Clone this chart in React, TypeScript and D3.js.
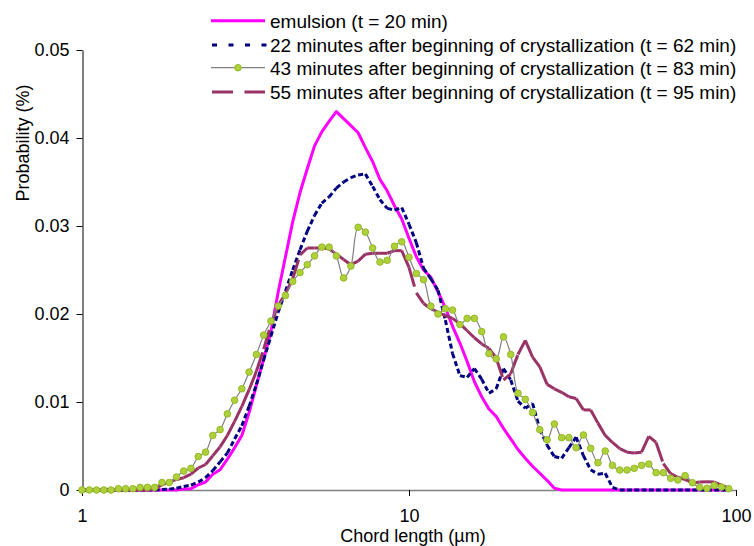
import React, { useEffect, useRef } from 'react';
import * as d3 from 'd3';

// chord length bins (µm), log spaced
const chordLength = [
  1.000, 1.053, 1.108, 1.166, 1.227, 1.292, 1.359, 1.431, 1.506, 1.585,
  1.668, 1.756, 1.848, 1.945, 2.047, 2.154, 2.268, 2.387, 2.512, 2.644,
  2.783, 2.929, 3.082, 3.244, 3.415, 3.594, 3.783, 3.981, 4.190, 4.410,
  4.642, 4.885, 5.142, 5.412, 5.696, 5.995, 6.310, 6.641, 6.989, 7.356,
  7.743, 8.149, 8.577, 9.027, 9.501, 10.00, 10.53, 11.08, 11.66, 12.27,
  12.92, 13.59, 14.31, 15.06, 15.85, 16.68, 17.56, 18.48, 19.45, 20.47,
  21.54, 22.68, 23.87, 25.12, 26.44, 27.83, 29.29, 30.82, 32.44, 34.15,
  35.94, 37.83, 39.81, 41.90, 44.10, 46.42, 48.85, 51.42, 54.12, 56.96,
  59.95, 63.10, 66.41, 69.89, 73.56, 77.43, 81.49, 85.77, 90.27, 95.01,
];

// probabilities, in units of 0.001 %
const emulsion = [
  0, 0, 0, 0, 0, 0, 0, 0, 0, 0,
  0, 0, 0, 0, 0.1, 0.15, 0.6, 0.9, 1.8, 2.3,
  3.5, 4.8, 6.2, 8.8, 11.9, 14.9, 18.0, 22.5, 26.5, 30.5,
  33.8, 36.5, 39.1, 40.7, 41.9, 43.0, 42.2, 41.4, 40.6, 38.9,
  37.3, 35.3, 34.0, 32.3, 30.8, 28.6, 26.5, 25.0, 24.2, 22.5,
  20.7, 18.6, 16.7, 14.6, 12.3, 10.6, 9.2, 8.35, 7.0, 5.8,
  4.6, 3.6, 2.7, 1.9, 1.1, 0.2, 0, 0, 0, 0,
  0, 0, 0, 0, 0, 0, 0, 0, 0, 0,
  0, 0, 0, 0, 0, 0, 0, 0, 0, 0,
];

const t62 = [
  0, 0, 0, 0, 0, 0, 0, 0, 0, 0,
  0, 0.05, 0.1, 0.2, 0.4, 0.55, 0.9, 1.4, 2.2, 3.2,
  4.2, 5.8, 7.3, 9.5, 12.0, 14.8, 17.5, 20.2, 22.6, 25.0,
  27.3, 29.4, 31.2, 32.6, 33.3, 34.3, 35.0, 35.5, 35.8, 35.9,
  34.5, 33.0, 32.0, 31.8, 32.1, 30.2, 28.1, 25.2, 24.0, 22.7,
  19.3, 15.5, 13.0, 12.8, 13.8, 12.6, 11.0, 11.5, 13.8, 12.5,
  10.1, 9.3, 9.85, 6.9, 5.1, 3.8, 3.6, 4.8, 6.0, 3.9,
  2.3, 1.8, 1.9, 0.3, 0, 0, 0, 0, 0, 0,
  0, 0, 0, 0, 0, 0, 0, 0, 0, 0,
];

const t83 = [
  0, 0, 0, 0, 0, 0.15, 0.15, 0.15, 0.3, 0.3,
  0.3, 0.85, 0.85, 1.48, 2.15, 2.46, 3.8, 4.3, 6.2, 6.86,
  8.65, 10.2, 11.5, 13.4, 15.4, 17.6, 19.2, 20.9, 22.1, 23.7,
  24.7, 25.6, 26.6, 27.6, 27.6, 26.6, 24.1, 25.45, 29.85, 29.3,
  27.5, 25.9, 26.1, 27.7, 28.2, 26.45, 24.6, 23.9, 20.9, 20.0,
  20.6, 20.45, 18.8, 19.5, 19.5, 18.0, 15.5, 14.9, 17.4, 15.4,
  11.0, 10.3, 8.8, 6.85, 5.7, 7.5, 5.95, 5.95, 4.8, 6.25,
  4.73, 3.1, 4.43, 2.8, 2.27, 2.27, 2.46, 2.8, 2.95, 1.97,
  1.97, 1.33, 1.14, 1.63, 0.83, 0.3, 0.19, 0.53, 0.34, 0.15,
];

const t95 = [
  0, 0, 0, 0, 0, 0, 0, 0, 0, 0,
  0.1, 0.6, 0.9, 1.2, 1.4, 1.8, 2.5, 2.9, 3.9, 4.9,
  6.2, 7.8, 9.5, 11.4, 13.5, 16.0, 18.8, 21.0, 22.3, 24.0,
  26.7, 27.5, 27.5, 27.5, 27.4, 26.8, 26.2, 25.6, 26.0, 26.8,
  26.9, 26.9, 26.9, 27.2, 27.2, 25.3, 22.4, 21.2, 20.6, 20.2,
  19.8, 19.5, 18.9, 18.1, 17.3, 16.6, 16.1, 15.0, 12.5, 13.2,
  15.4, 17.0, 15.1, 14.0, 12.0, 11.5, 11.1, 10.6, 10.4, 9.1,
  9.1, 7.6, 6.2, 5.4, 4.7, 4.3, 4.2, 4.3, 6.1, 5.4,
  3.0, 1.85, 1.45, 1.2, 0.8, 0.9, 0.95, 0.9, 0.55, 0.2,
];

const yTicks = [0, 0.01, 0.02, 0.03, 0.04, 0.05];
const yTickLabels = ['0', '0.01', '0.02', '0.03', '0.04', '0.05'];
const xTicks = [1, 10, 100];
const xTickLabels = ['1', '10', '100'];
const legendLabels = [
  'emulsion (t = 20 min)',
  '22 minutes after beginning of crystallization (t = 62 min)',
  '43 minutes after beginning of crystallization (t = 83 min)',
  '55 minutes after beginning of crystallization (t = 95 min)',
];

const UNIT = 0.001;
const FONT = 'Liberation Sans, Arial, Helvetica, sans-serif';

const App: React.FC = () => {
  const svgRef = useRef<SVGSVGElement>(null);

  useEffect(() => {
    if (!svgRef.current) return;
    const svg = d3.select(svgRef.current);
    svg.selectAll('*').remove();

    const x = d3.scaleLog().domain([1, 100]).range([82, 736]);
    const y = d3.scaleLinear().domain([0, 0.05]).range([490, 50]);

    // Axes
    const gx = svg.append('g').attr('transform', 'translate(0,490)')
      .call(d3.axisBottom(x).tickValues(xTicks)
        .tickFormat((_, i) => xTickLabels[i])
        .tickSize(6).tickSizeOuter(0).tickPadding(13));
    gx.select('.domain').attr('stroke', '#808080').attr('stroke-width', 1.5);
    gx.selectAll('.tick line').attr('stroke', '#000');
    gx.selectAll('.tick text').attr('font-family', FONT).attr('font-size', 18).attr('fill', '#000');

    const gy = svg.append('g').attr('transform', 'translate(82.5,0)')
      .call(d3.axisLeft(y).tickValues(yTicks)
        .tickFormat((_, i) => yTickLabels[i])
        .tickSize(6).tickSizeOuter(0).tickPadding(7));
    gy.select('.domain').attr('stroke', '#000');
    gy.selectAll('.tick line').attr('stroke', '#000');
    gy.selectAll('.tick text').attr('font-family', FONT).attr('font-size', 18).attr('fill', '#000');

    svg.append('text')
      .attr('x', 413).attr('y', 542)
      .attr('text-anchor', 'middle')
      .attr('font-family', FONT).attr('font-size', 18)
      .text('Chord length (µm)');

    svg.append('text')
      .attr('transform', 'translate(29,143) rotate(-90)')
      .attr('text-anchor', 'middle')
      .attr('font-family', FONT).attr('font-size', 18)
      .text('Probability (%)');

    const pts = (vals: number[]) => vals.map((v, i) => [x(chordLength[i]), y(v * UNIT)] as [number, number]);

    // segment-wise dashes (pattern restarts at each data point)
    const segmented = (vals: number[], color: string, dash: string, width: number) => {
      const p = pts(vals);
      const g = svg.append('g');
      for (let i = 0; i < p.length - 1; i++) {
        g.append('line')
          .attr('x1', p[i][0]).attr('y1', p[i][1])
          .attr('x2', p[i + 1][0]).attr('y2', p[i + 1][1])
          .attr('stroke', color).attr('stroke-width', width)
          .attr('stroke-dasharray', dash);
      }
    };

    // emulsion
    svg.append('path')
      .attr('d', d3.line()(pts(emulsion)) || '')
      .attr('fill', 'none').attr('stroke', '#FF00FF').attr('stroke-width', 3)
      .attr('stroke-linejoin', 'round');

    segmented(t62, '#000080', '5,3', 3);
    segmented(t95, '#993366', '20,8', 3);

    // t = 83 min: smoothed gray line + markers
    svg.append('path')
      .attr('d', d3.line().curve(d3.curveCatmullRom.alpha(0.5))(pts(t83)) || '')
      .attr('fill', 'none').attr('stroke', '#808080').attr('stroke-width', 1.2);
    svg.append('g').selectAll('circle')
      .data(pts(t83))
      .enter().append('circle')
      .attr('cx', d => d[0]).attr('cy', d => d[1]).attr('r', 3.3)
      .attr('fill', '#AED13A').attr('stroke', '#95B82A').attr('stroke-width', 1);

    // Legend
    const rows = [20.7, 45, 67.7, 92];
    const lg = svg.append('g');
    lg.append('line').attr('x1', 211).attr('x2', 265).attr('y1', rows[0]).attr('y2', rows[0])
      .attr('stroke', '#FF00FF').attr('stroke-width', 3);
    lg.append('line').attr('x1', 212).attr('x2', 267).attr('y1', rows[1]).attr('y2', rows[1])
      .attr('stroke', '#000080').attr('stroke-width', 3).attr('stroke-dasharray', '5,11.5');
    lg.append('line').attr('x1', 211).attr('x2', 265).attr('y1', rows[2]).attr('y2', rows[2])
      .attr('stroke', '#808080').attr('stroke-width', 1.2);
    lg.append('circle').attr('cx', 238).attr('cy', rows[2]).attr('r', 3.3)
      .attr('fill', '#AED13A').attr('stroke', '#95B82A');
    lg.append('line').attr('x1', 212).attr('x2', 265).attr('y1', rows[3]).attr('y2', rows[3])
      .attr('stroke', '#993366').attr('stroke-width', 3).attr('stroke-dasharray', '21,11.5');
    legendLabels.forEach((t, i) => {
      lg.append('text')
        .attr('x', 270).attr('y', rows[i] + 6.8)
        .attr('font-family', FONT).attr('font-size', 19)
        .text(t);
    });
  }, []);

  return (
    <svg
      ref={svgRef}
      width={754}
      height={546}
      style={{ position: 'absolute', left: 0, top: 0, background: '#fff' }}
    />
  );
};

export default App;
